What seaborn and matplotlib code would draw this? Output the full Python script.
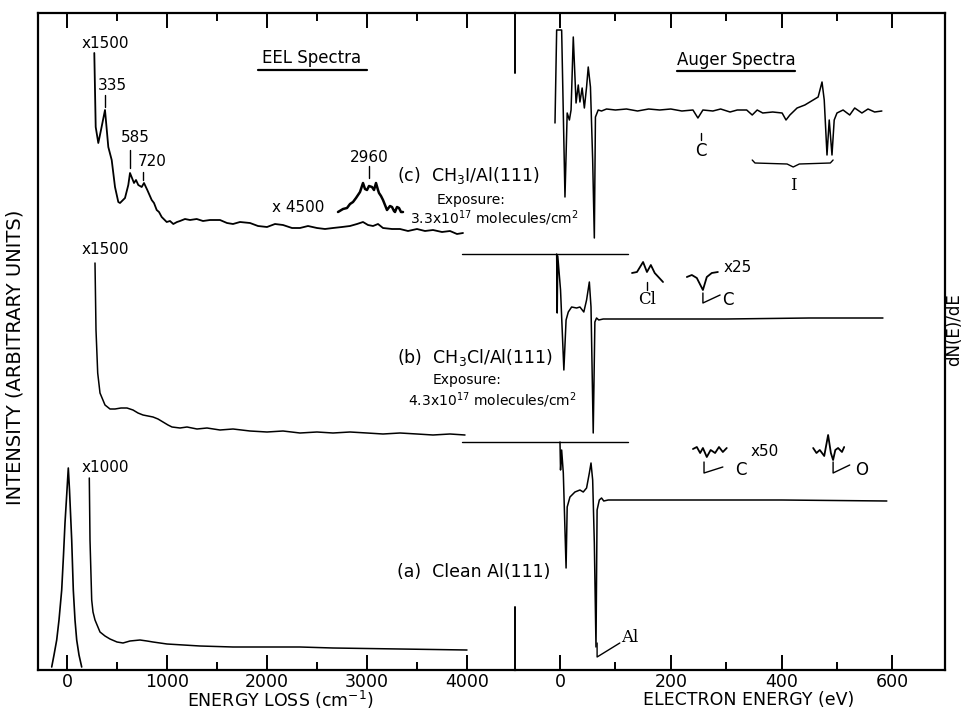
import matplotlib
matplotlib.use("Agg")
import matplotlib.pyplot as plt
import seaborn as sns

# ---------------- EEL spectra (x: energy loss, cm^-1 ; y: arbitrary units) -------------
eel_c_x = [273, 287, 313, 340, 380, 413, 447, 480, 513, 530, 580, 613, 630, 670, 690, 713, 747, 770,
           803, 847, 870, 897, 920, 947, 997, 1030, 1063, 1100, 1130, 1180, 1230, 1297, 1360, 1430,
           1530, 1600, 1660, 1730, 1830, 1910, 2000, 2080, 2160, 2250, 2330, 2410, 2500, 2580, 2660,
           2750, 2830, 2900, 2960, 3010, 3060, 3110, 3160, 3250, 3330, 3410, 3500, 3580, 3660, 3750,
           3830, 3900, 3960]
eel_c_y = [617, 543, 527, 540, 560, 523, 510, 483, 468, 467, 472, 485, 497, 487, 490, 485, 483, 487,
           480, 470, 467, 460, 458, 453, 448, 449, 446, 448, 449, 451, 450, 451, 449, 450,
           450, 447, 446, 448, 447, 444, 443, 446, 445, 442, 442, 444, 442, 441, 442,
           443, 444, 446, 448, 445, 444, 446, 442, 441, 441, 439, 441, 439, 440, 438,
           439, 436, 437]

eel_c4500_x = [2710, 2760, 2800, 2830, 2860, 2890, 2910, 2930, 2960, 2980, 3000, 3020, 3050, 3070,
               3090, 3110, 3120, 3140, 3160, 3180, 3200, 3230, 3250, 3270, 3280, 3300, 3320, 3340, 3360]
eel_c4500_y = [458, 461, 462, 466, 468, 472, 475, 478, 487, 481, 480, 484, 483, 480,
               487, 480, 477, 474, 470, 465, 460, 464, 463, 459, 458, 463, 462, 458, 458]

eel_b_x = [280, 290, 307, 330, 380, 430, 480, 540, 600, 660, 710, 760, 810, 860, 910, 960, 1010, 1050,
           1130, 1200, 1300, 1400, 1530, 1660, 1830, 2000, 2160, 2330, 2500, 2660, 2830, 3000, 3160,
           3330, 3500, 3660, 3830, 3980]
eel_b_y = [407, 340, 297, 277, 265, 261, 261, 262, 262, 260, 257, 255, 254, 253, 251, 248, 245, 243,
           242, 243, 241, 242, 240, 241, 239, 238, 239, 237, 238, 237, 238, 237, 236,
           237, 236, 235, 236, 235]

eel_a_elastic_x = [-153, -130, -103, -80, -53, -35, -20, 0, 13, 25, 47, 63, 80, 97, 120, 147]
eel_a_elastic_y = [3, 15, 30, 50, 80, 115, 147, 180, 202, 180, 130, 80, 50, 30, 15, 3]

eel_a_x = [223, 230, 247, 260, 280, 330, 380, 430, 500, 560, 630, 730, 800, 860, 1000, 1330, 1660,
           2330, 2660, 3330, 4000]
eel_a_y = [192, 130, 70, 58, 50, 38, 34, 31, 28, 27, 29, 30, 29, 28, 26, 24, 23, 23, 22, 21, 20]

# ---------------- Auger spectra (x: electron energy, eV ; y: dN(E)/dE) -------------------
aug_c_x = [-9, -6, 3, 9, 13, 17, 20, 24, 29, 33, 36, 40, 44, 48, 51, 55, 59, 62, 64, 69, 75, 84,
           100, 120, 140, 160, 180, 200, 220, 240, 249, 258, 276, 290, 307, 320, 337, 347, 356, 366,
           384, 401, 408, 415, 428, 442, 457, 466, 473, 477, 482, 486, 491, 495, 500, 511, 523, 532,
           545, 556, 568, 581]
aug_c_y = [547, 640, 640, 473, 557, 550, 560, 633, 567, 585, 568, 582, 562, 583, 603, 583, 510, 432,
           553, 560, 559, 561, 560, 561, 559, 561, 560, 561, 559, 560, 552, 560, 559, 561, 558, 560,
           560, 555, 560, 557, 558, 557, 550, 555, 562, 565, 570, 573, 588, 570, 515, 550, 515, 550,
           557, 560, 555, 562, 557, 561, 558, 559]

aug_b_x = [-6, -5, -4, 1, 7, 11, 15, 21, 30, 36, 43, 48, 53, 56, 60, 63, 66, 70, 78, 150, 300, 450, 583]
aug_b_y = [416, 357, 414, 380, 300, 350, 358, 363, 362, 363, 358, 370, 388, 363, 237, 348, 352, 350,
           351, 351, 351, 352, 352]

aug_a_x = [0, 1, 3, 6, 9, 11, 13, 18, 27, 36, 42, 48, 53, 56, 59, 62, 65, 67, 71, 75, 79, 87, 200,
           400, 590]
aug_a_y = [228, 200, 220, 197, 140, 102, 163, 173, 178, 180, 178, 182, 197, 207, 190, 127, 23, 160,
           170, 172, 169, 170, 170, 170, 169]

# magnified insets
aug_b_cl_x = [130, 139, 150, 157, 164, 171, 186]
aug_b_cl_y = [397, 398, 408, 398, 405, 397, 388]
aug_b_c_x = [229, 238, 247, 258, 265, 274, 285]
aug_b_c_y = [393, 395, 392, 380, 393, 397, 398]
aug_a_c_x = [240, 247, 253, 258, 265, 272, 280, 287, 294, 301]
aug_a_c_y = [221, 223, 217, 222, 213, 220, 217, 223, 218, 222]
aug_a_o_x = [457, 463, 469, 477, 484, 489, 493, 497, 502, 509, 513]
aug_a_o_y = [222, 217, 220, 214, 235, 217, 210, 220, 222, 218, 223]

eel_ticks = [0, 1000, 2000, 3000, 4000]
aug_ticks = [0, 200, 400, 600]

# ---------------- figure -----------------------------------------------------------------
sns.set_theme(style="white")
plt.rcParams['font.family'] = ['DejaVu Sans']
plt.rcParams['mathtext.fontset'] = 'dejavusans'

W, H = 963, 712
fig = plt.figure(figsize=(W / 100, H / 100), dpi=100)
fig.patch.set_facecolor('white')

x0, xdiv, x1 = 38, 515, 945
ytop, ybot = 13, 670
axL = fig.add_axes([x0 / W, 1 - ybot / H, (xdiv - x0) / W, (ybot - ytop) / H])
axR = fig.add_axes([xdiv / W, 1 - ybot / H, (x1 - xdiv) / W, (ybot - ytop) / H])

EEL_LIM = (-290, 4480)
AUG_LIM = (-81.2, 695)
YLIM = (0, ybot - ytop)

K = 'black'


def trace(ax, x, y, lw=1.0):
    sns.lineplot(x=x, y=y, ax=ax, sort=False, estimator=None, color=K, lw=lw, legend=False)


trace(axL, eel_c_x, eel_c_y, 1.3)
trace(axL, eel_c4500_x, eel_c4500_y, 1.8)
trace(axL, eel_b_x, eel_b_y, 1.1)
trace(axL, eel_a_elastic_x, eel_a_elastic_y, 1.2)
trace(axL, eel_a_x, eel_a_y, 1.1)

trace(axR, aug_c_x, aug_c_y, 1.1)
trace(axR, aug_b_x, aug_b_y, 1.1)
trace(axR, aug_a_x, aug_a_y, 1.1)
for xs, ys in [(aug_b_cl_x, aug_b_cl_y), (aug_b_c_x, aug_b_c_y),
               (aug_a_c_x, aug_a_c_y), (aug_a_o_x, aug_a_o_y)]:
    trace(axR, xs, ys, 1.3)

# pen-lift baselines crossing into the EEL panel
for yb in (416, 228):
    axR.plot([-177, 123], [yb, yb], color=K, lw=1.0, clip_on=False)

for ax, lim in ((axL, EEL_LIM), (axR, AUG_LIM)):
    ax.set_xlim(*lim)
    ax.set_ylim(*YLIM)
    ax.set_yticks([])
    ax.set_xlabel('')
    ax.set_ylabel('')
    ax.patch.set_alpha(0)
    ax.tick_params(axis='x', which='both', direction='in', top=True, bottom=True,
                   color=K, width=1.4, labelsize=12.5, pad=2, labelcolor=K)
    ax.tick_params(axis='x', which='major', length=11)
    ax.tick_params(axis='x', which='minor', length=6)
    for s in ax.spines.values():
        s.set_color(K)
        s.set_linewidth(1.6)

axL.spines['right'].set_visible(False)
axR.spines['left'].set_visible(False)

axL.set_xticks(eel_ticks)
axL.set_xticklabels([str(t) for t in eel_ticks])
axL.set_xticks([500, 1500, 2500, 3500], minor=True)
axR.set_xticks(aug_ticks)
axR.set_xticklabels([str(t) for t in aug_ticks])
axR.set_xticks([100, 300, 500], minor=True)

# panel divider stubs
axL.axvline(EEL_LIM[1], ymin=0, ymax=63 / YLIM[1], color=K, lw=1.4, clip_on=False)
axL.axvline(EEL_LIM[1], ymin=597 / YLIM[1], ymax=1, color=K, lw=1.4, clip_on=False)

axL.set_xlabel('ENERGY LOSS (cm$^{-1}$)', fontsize=12.5, color=K)
axL.xaxis.set_label_coords((280 - x0) / (xdiv - x0), -(700 - ybot) / (ybot - ytop))
axR.set_xlabel('ELECTRON ENERGY (eV)', fontsize=12.5, color=K)
axR.xaxis.set_label_coords((749 - xdiv) / (x1 - xdiv), -(700 - ybot) / (ybot - ytop))
axL.xaxis.label.set_verticalalignment('center')
axR.xaxis.label.set_verticalalignment('center')

fig.text(15 / W, 1 - 357 / H, 'INTENSITY (ARBITRARY UNITS)', rotation=90, ha='center',
         va='center', fontsize=14, color=K)
fig.text(954 / W, 1 - 330 / H, 'dN(E)/dE', rotation=90, ha='center', va='center',
         fontsize=12, color=K)

# ---------------- EEL annotations ----------------
fs = 11


def tL(x, y, s, size=fs, ha='center', **kw):
    axL.text(x, y, s, fontsize=size, ha=ha, va='center', color=K, **kw)


def tR(x, y, s, size=fs, ha='center', **kw):
    axR.text(x, y, s, fontsize=size, ha=ha, va='center', color=K, **kw)


tL(2450, 612, 'EEL Spectra', 12)
axL.plot([1910, 3000], [600, 600], color=K, lw=1.6)
tL(380, 627, 'x1500')
tL(450, 585, '335')
axL.plot([380, 380], [563, 575], color=K, lw=1.0)
tL(680, 532, '585')
axL.plot([630, 630], [502, 520], color=K, lw=1.0)
tL(850, 508, '720')
axL.plot([760, 760], [490, 498], color=K, lw=1.0)
tL(3020, 512, '2960')
axL.plot([3020, 3020], [492, 504], color=K, lw=1.0)
tL(2310, 462, 'x 4500')
tL(3300, 495, '(c)  CH$_3$I/Al(111)', 12.5, ha='left')
tL(3700, 470, 'Exposure:', 10, ha='left')
tL(3430, 452, '3.3x10$^{17}$ molecules/cm$^2$', 10, ha='left')

tL(380, 420, 'x1500')
tL(3300, 313, '(b)  CH$_3$Cl/Al(111)', 12.5, ha='left')
tL(3660, 290, 'Exposure:', 10, ha='left')
tL(3410, 270, '4.3x10$^{17}$ molecules/cm$^2$', 10, ha='left')

tL(380, 202, 'x1000')
tL(3300, 98, '(a)  Clean Al(111)', 12.5, ha='left')

# ---------------- Auger annotations ----------------
tR(318, 610, 'Auger Spectra', 12)
axR.plot([211, 424], [599, 599], color=K, lw=1.6)
axR.plot([255, 255], [530, 537], color=K, lw=1.0)
tR(255, 519, 'C', 12)
axR.plot([347, 352, 410, 421, 432, 488, 493], [510, 507, 506, 503, 506, 507, 510], color=K, lw=1.0)
tR(421, 485, 'I', 12, family='DejaVu Serif')

axR.plot([157, 157], [380, 388], color=K, lw=1.0)
tR(157, 370, 'Cl', 12, family='DejaVu Serif')
tR(321, 402, 'x25')
axR.plot([258, 258, 289], [377, 367, 375], color=K, lw=1.0)
tR(303, 370, 'C', 12)

tR(370, 218, 'x50')
axR.plot([260, 260, 294], [208, 197, 203], color=K, lw=1.0)
tR(327, 200, 'C', 12)
axR.plot([493, 493, 523], [208, 197, 205], color=K, lw=1.0)
tR(545, 200, 'O', 12)

axR.plot([67, 67, 108], [27, 13, 27], color=K, lw=1.0)
tR(110, 32, 'Al', 12, ha='left', family='DejaVu Serif')

fig.savefig('out.png', dpi=100, facecolor='white')
